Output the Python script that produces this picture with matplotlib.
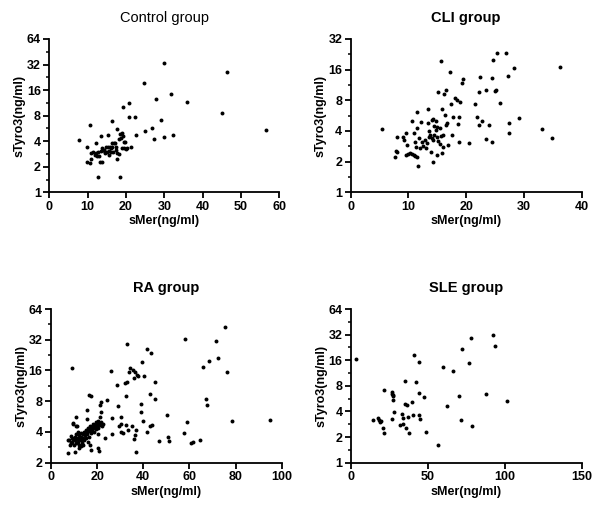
import matplotlib
matplotlib.use('Agg')
import matplotlib.pyplot as plt
from matplotlib.ticker import FixedLocator, FuncFormatter, NullFormatter

plt.rcParams['font.family'] = ['Liberation Sans', 'DejaVu Sans']

# Dados (sMer x sTyro3, ng/ml)

## Control group
control_x = [7.8, 9.9, 10.5, 9.9, 10.6, 10.9, 11.0, 12.3, 12.8, 13.5, 13.2, 13.7,
             11.9, 12.3, 12.8, 13.0, 14.1, 14.5, 15.0, 15.2, 15.4, 15.7, 16.0, 16.3,
             16.4, 16.3, 16.7, 17.1, 17.6, 17.7, 17.7, 18.1, 18.3, 18.4, 18.5, 18.9,
             19.0, 19.3, 19.5, 19.1, 20.0, 20.9, 20.9, 21.3, 22.3, 22.6, 24.8, 25.0,
             26.7, 27.4, 27.9, 29.1, 29.9, 29.9, 31.7, 32.2, 35.9, 45.0, 46.3, 56.4,
             11.5, 12.5, 13.4, 13.8, 14.3, 14.6, 14.7, 15.6, 15.8, 16.2, 17.0, 17.3,
             17.5, 18.6, 19.4, 19.7, 20.3]
control_y = [4.13, 3.45, 6.2, 2.3, 2.2, 2.5, 2.93, 3.85, 1.53, 4.6, 2.26, 2.28,
             2.75, 2.88, 3.0, 2.67, 3.15, 2.88, 3.0, 4.7, 3.45, 2.75, 3.3, 3.45,
             3.77, 6.9, 3.0, 3.85, 2.93, 2.45, 5.6, 2.83, 4.3, 4.8, 1.53, 4.95,
             3.3, 4.6, 3.95, 10.0, 3.2, 7.8, 11.4, 3.45, 7.8, 4.7, 19.2, 5.3,
             5.7, 4.24, 12.4, 7.1, 33.6, 4.45, 14.4, 4.77, 11.6, 8.7, 26.4, 5.4,
             3.01, 2.68, 3.09, 3.3, 3.15, 3.01, 3.38, 3.09, 3.45, 3.01, 3.82, 3.45,
             3.15, 4.4, 3.3, 3.9, 3.3]

## CLI group
cli_x = [5.5, 7.7, 7.8, 8.0, 8.1, 9.1, 9.2, 9.6, 9.6, 9.8, 10.0, 10.3, 10.6, 10.9,
         11.1, 10.6, 10.9, 11.1, 11.3, 11.4, 11.4, 11.4, 11.7, 11.9, 12.0, 12.2,
         12.4, 12.6, 12.9, 13.0, 13.2, 13.4, 13.4, 13.5, 13.6, 13.7, 13.9, 14.0,
         14.1, 14.2, 14.3, 14.3, 14.4, 14.5, 14.7, 14.8, 14.9, 14.9, 15.0, 15.2,
         15.2, 15.4, 15.5, 15.6, 15.7, 15.8, 15.8, 15.9, 16.0, 16.2, 16.3, 16.5,
         16.5, 16.6, 16.9, 17.2, 17.3, 17.5, 17.7, 18.1, 18.4, 18.6, 18.7, 18.8,
         18.9, 19.2, 19.5, 20.4, 21.6, 21.9, 22.2, 22.3, 22.4, 22.7, 23.4, 23.5,
         23.9, 24.5, 24.5, 24.7, 25.0, 25.2, 25.4, 25.9, 26.9, 27.3, 27.4, 27.4,
         28.2, 29.1, 33.1, 34.9, 36.3]
cli_y = [4.15, 2.24, 2.56, 2.47, 3.47, 3.47, 3.26, 3.79, 2.32, 2.9, 2.38, 2.41,
         2.38, 2.32, 2.27, 5.05, 3.79, 3.14, 2.8, 4.3, 6.2, 2.24, 1.83, 3.44, 2.74,
         4.94, 3.14, 2.85, 3.26, 2.7, 3.03, 6.6, 4.83, 3.52, 4.03, 3.68, 2.5, 5.13,
         3.39, 3.26, 5.2, 1.97, 4.47, 3.65, 5.05, 4.1, 3.47, 2.32, 4.4, 3.19, 9.7,
         4.25, 2.98, 3.57, 19.6, 6.6, 2.41, 2.8, 3.65, 9.2, 5.8, 4.58, 10.2, 4.75,
         2.91, 15.3, 7.3, 3.65, 5.45, 8.4, 8.1, 4.67, 3.14, 5.5, 7.75, 11.7, 12.9,
         3.07, 7.3, 5.5, 9.7, 4.54, 13.4, 5.05, 10.2, 3.3, 4.58, 3.09, 13.1, 19.9,
         9.9, 10.1, 23.5, 7.6, 23.5, 13.9, 4.76, 3.85, 16.5, 5.36, 4.15, 3.39, 16.8]

## RA group
ra_x = [7.5, 7.2, 8.2, 8.7, 9.2, 9.7, 10.4, 10.8, 11.4, 16.6, 17.3, 17.5,
        20.4, 20.6, 21.2, 21.8, 24.1, 21.7, 21.2, 20.5, 23.4, 26.3, 26.0, 26.5,
        28.5, 29.2, 29.5, 30.2, 30.2, 30.3, 31.4, 32.1, 32.5, 32.8, 32.8, 32.5,
        33.5, 34.0, 34.2, 34.9, 35.4, 35.8, 36.1, 36.5, 36.5, 36.7, 36.8, 37.1,
        37.6, 39.2, 39.2, 39.3, 40.0, 40.3, 41.5, 41.6, 42.9, 43.2, 43.1, 43.6,
        44.9, 45.2, 47.0, 50.4, 50.6, 51.2, 57.7, 58.2, 58.8, 60.5, 61.4, 64.6,
        66.0, 67.1, 67.5, 68.5, 71.4, 72.5, 75.3, 76.2, 78.6, 94.9,
        8.0, 8.5, 9.0, 9.3, 9.7, 10.0, 10.2, 10.5, 10.8, 11.0, 11.2, 11.5, 11.8,
        12.0, 12.2, 12.5, 12.8, 13.0, 13.2, 13.5, 13.8, 14.0, 14.3, 14.5, 14.8,
        15.0, 15.2, 15.5, 15.8, 16.0, 16.3, 16.5, 16.8, 17.0, 17.3, 17.5, 17.8,
        18.0, 18.3, 18.5, 18.8, 19.0, 19.3, 19.5, 19.8, 20.0, 20.3, 20.5, 20.8,
        21.2, 21.5, 22.0, 22.5, 11.0, 9.5, 11.5, 14.0, 13.0, 16.0, 17.0, 12.0,
        15.5, 15.6]
ra_y = [2.5, 3.33, 2.98, 3.65, 16.8, 4.86, 2.52, 5.65, 4.6, 9.3, 9.0, 2.66,
        2.76, 2.6, 7.34, 7.9, 8.2, 6.3, 5.6, 3.85, 3.46, 5.5, 15.8, 3.8,
        11.5, 7.2, 4.6, 5.6, 4.75, 3.96, 3.9, 12.2, 9.0, 12.3, 28.9, 4.7,
        4.15, 15.5, 17.0, 4.6, 16.2, 13.4, 3.4, 3.7, 15.5, 4.2, 2.56, 14.4,
        14.2, 7.5, 6.3, 19.5, 5.1, 14.0, 3.96, 25.8, 4.6, 23.9, 9.5, 4.7,
        8.5, 12.3, 3.26, 5.8, 3.6, 3.26, 3.9, 32.8, 5.0, 3.12, 3.2, 3.33,
        17.3, 8.4, 7.4, 19.6, 31.2, 21.4, 43.0, 15.6, 5.1, 5.2,
        3.3, 3.1, 3.5, 3.2, 3.4, 3.0, 3.6, 3.3, 3.1, 3.8, 3.5, 3.2, 3.4,
        3.7, 3.0, 3.5, 3.9, 3.3, 3.6, 3.1, 3.8, 3.5, 4.0, 3.3, 3.7,
        4.2, 3.5, 4.0, 3.8, 4.4, 4.1, 3.6, 4.3, 4.6, 3.9, 4.5, 4.2,
        4.8, 4.4, 4.0, 4.7, 4.5, 5.0, 4.3, 4.8, 4.6, 5.1, 4.4, 4.9,
        4.7, 5.0, 4.6, 4.8, 4.6, 4.8, 4.0, 3.0, 2.9, 3.2, 3.0, 2.8,
        5.3, 6.5]

## SLE group
sle_x = [3.0, 14.5, 17.3, 18.2, 18.9, 19.3, 20.6, 21.7, 21.5, 26.4, 26.9, 27.1,
         27.5, 27.1, 26.4, 28.2, 31.9, 33.4, 34.0, 34.0, 35.1, 35.3, 35.8, 36.2,
         36.9, 37.5, 39.7, 40.1, 41.2, 42.3, 44.2, 44.4, 44.4, 44.9, 47.5, 49.0,
         56.8, 60.0, 62.4, 66.3, 70.5, 71.5, 72.0, 76.5, 78.3, 78.9, 88.0, 92.3,
         93.9, 101.4]
sle_y = [16.5, 3.17, 3.33, 3.17, 3.03, 3.1, 2.53, 2.25, 7.15, 6.8, 6.5, 6.2,
         6.05, 5.45, 3.22, 3.97, 2.75, 3.73, 3.32, 2.82, 4.9, 9.2, 2.53, 4.77,
         3.47, 2.25, 5.1, 3.6, 18.4, 8.9, 6.55, 15.4, 3.63, 3.29, 5.85, 2.27,
         1.61, 13.3, 4.64, 12.0, 6.07, 3.17, 21.8, 15.0, 29.0, 2.7, 6.4, 31.6,
         23.7, 5.35]

# Configuracao dos paineis: dados, titulo, limites e ticks
paineis = [
    (control_x, control_y, 'Control group', 'normal', [0.0822, 0.6207, 0.3833, 0.3024],
     (0, 60), [0, 10, 20, 30, 40, 50, 60], [1, 2, 4, 8, 16, 32, 64]),
    (cli_x, cli_y, 'CLI group', 'bold', [0.5845, 0.6207, 0.385, 0.3024],
     (0, 40), [0, 10, 20, 30, 40], [1, 2, 4, 8, 16, 32]),
    (ra_x, ra_y, 'RA group', 'bold', [0.085, 0.0874, 0.3845, 0.3031],
     (0, 100), [0, 20, 40, 60, 80, 100], [2, 4, 8, 16, 32, 64]),
    (sle_x, sle_y, 'SLE group', 'bold', [0.585, 0.0874, 0.3845, 0.3031],
     (0, 150), [0, 50, 100, 150], [1, 2, 4, 8, 16, 32, 64]),
]

fig = plt.figure(figsize=(6, 5.07), dpi=100)

for xs, ys, titulo, peso, pos, xlim, xticks, yticks in paineis:
    ax = fig.add_axes(pos)
    ax.scatter(xs, ys, s=8, color='black', linewidths=0, zorder=3, clip_on=False)
    ax.set_yscale('log', base=2)
    ax.set_xlim(*xlim)
    ax.set_ylim(yticks[0], yticks[-1])
    ax.set_xticks(xticks)
    ax.yaxis.set_major_locator(FixedLocator(yticks))
    ax.yaxis.set_minor_locator(FixedLocator([t * 2 ** 0.5 for t in yticks[:-1]]))
    ax.yaxis.set_major_formatter(FuncFormatter(lambda v, p: '%d' % round(v)))
    ax.yaxis.set_minor_formatter(NullFormatter())
    ax.spines['top'].set_visible(False)
    ax.spines['right'].set_visible(False)
    ax.spines['left'].set_linewidth(1.3)
    ax.spines['bottom'].set_linewidth(1.3)
    ax.tick_params(which='major', length=4, width=1.3, labelsize=9, pad=2)
    ax.tick_params(which='minor', length=2.5, width=1.1)
    for lab in ax.get_xticklabels() + ax.get_yticklabels():
        lab.set_fontweight('bold')
    ax.set_xlabel('sMer(ng/ml)', fontsize=9, fontweight='bold', labelpad=2)
    ax.set_ylabel('sTyro3(ng/ml)', fontsize=9, fontweight='bold', labelpad=1)
    ax.set_title(titulo, fontsize=10.5, fontweight=peso, pad=12)

plt.savefig('out.png', dpi=100)
